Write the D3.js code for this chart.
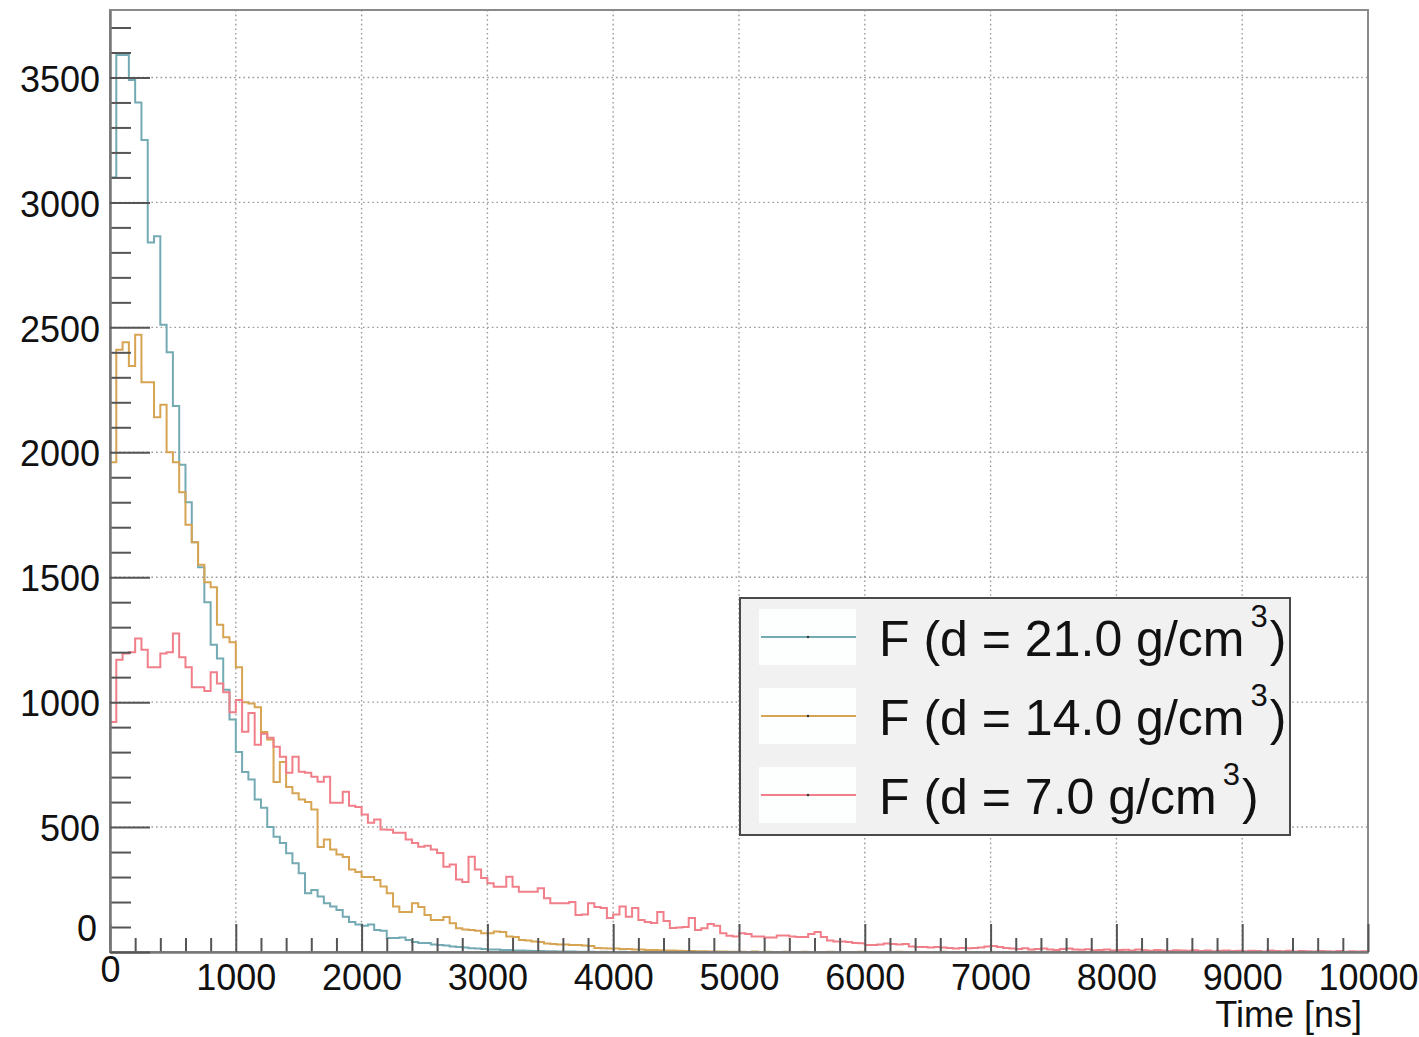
<!DOCTYPE html>
<html>
<head>
<meta charset="utf-8">
<script src="https://cdn.jsdelivr.net/npm/d3@7"></script>
<style>
  body { margin: 0; background: #fff; }
  svg { display: block; }
  text { font-family: "Liberation Sans", Arial, Helvetica, sans-serif; fill: #111; }
</style>
</head>
<body>
<svg id="chart" width="1419" height="1037"></svg>
<script>
// Time histograms, 50 ns bins from 0 to 10000 ns
const binWidth = 50;
const xTickValues = [0, 1000, 2000, 3000, 4000, 5000, 6000, 7000, 8000, 9000, 10000];
const xTickLabels = ["0", "1000", "2000", "3000", "4000", "5000", "6000", "7000", "8000", "9000", "10000"];
const yTickValues = [0, 500, 1000, 1500, 2000, 2500, 3000, 3500];
const yTickLabels = ["0", "500", "1000", "1500", "2000", "2500", "3000", "3500"];
const seriesNames = ["F (d = 21.0 g/cm", "F (d = 14.0 g/cm", "F (d = 7.0 g/cm"];

// counts per bin, d = 21.0 g/cm3
const counts21 = [
  3100, 3590, 3590, 3490, 3400, 3250, 2840, 2865, 2510, 2400,
  2185, 1950, 1800, 1640, 1540, 1400, 1230, 1175, 1050, 930,
  800, 720, 690, 610, 577, 500, 461, 436, 395, 355,
  315, 235, 248, 222, 195, 182, 168, 141, 120, 110,
  105, 110, 88, 85, 56, 56, 58, 48, 40, 36,
  36, 30, 28, 26, 22, 20, 18, 15, 14, 12,
  10, 10, 8, 8, 6, 6, 5, 4, 4, 3,
  3, 2, 2, 2, 1, 1, 1, 0, 1, 0,
  0, 1, 0, 0, 0, 1, 0, 0, 0, 0,
  0, 0, 0, 0, 0, 0, 0, 0, 0, 0,
  0, 0, 0, 0, 0, 0, 0, 0, 0, 0,
  0, 0, 0, 0, 0, 0, 0, 0, 0, 0,
  0, 0, 0, 0, 0, 0, 0, 0, 0, 0,
  0, 0, 0, 0, 0, 0, 0, 0, 0, 0,
  0, 0, 0, 0, 0, 0, 0, 0, 0, 0,
  0, 0, 0, 0, 0, 0, 0, 0, 0, 0,
  0, 0, 0, 0, 0, 0, 0, 0, 0, 0,
  0, 0, 0, 0, 0, 0, 0, 0, 0, 0,
  0, 0, 0, 0, 0, 0, 0, 0, 0, 0,
  0, 0, 0, 0, 0, 0, 0, 0, 0, 0
];

// counts per bin, d = 14.0 g/cm3
const counts14 = [
  1960, 2410, 2440, 2345, 2470, 2280, 2280, 2140, 2190, 2000,
  1960, 1840, 1710, 1640, 1550, 1480, 1460, 1310, 1260, 1240,
  1140, 1000, 995, 980, 880, 850, 680, 760, 660, 635,
  610, 600, 570, 420, 450, 410, 390, 380, 330, 320,
  300, 300, 288, 262, 235, 182, 160, 160, 195, 180,
  148, 128, 128, 140, 115, 95, 90, 88, 85, 75,
  75, 82, 80, 62, 60, 48, 46, 42, 40, 34,
  32, 30, 30, 28, 28, 26, 24, 16, 15, 14,
  14, 12, 12, 10, 10, 8, 8, 7, 6, 6,
  5, 4, 4, 3, 3, 2, 2, 2, 1, 1,
  1, 0, 2, 0, 1, 0, 0, 1, 0, 0,
  1, 0, 0, 0, 1, 0, 0, 0, 0, 1,
  0, 0, 0, 0, 0, 1, 0, 0, 0, 0,
  0, 0, 1, 0, 0, 0, 0, 0, 0, 0,
  0, 0, 0, 0, 0, 0, 1, 0, 0, 0,
  0, 0, 0, 0, 0, 0, 0, 0, 0, 0,
  0, 0, 0, 0, 0, 0, 0, 0, 0, 0,
  0, 0, 0, 0, 0, 0, 0, 0, 0, 0,
  0, 0, 0, 0, 0, 0, 0, 0, 0, 0,
  0, 0, 0, 0, 0, 0, 0, 0, 0, 0
];

// counts per bin, d = 7.0 g/cm3
const counts7 = [
  920, 1170, 1195, 1200, 1255, 1210, 1140, 1140, 1195, 1200,
  1275, 1180, 1140, 1060, 1060, 1045, 1120, 1075, 1040, 960,
  1009, 881, 957, 829, 873, 857, 821, 781, 717, 781,
  721, 717, 701, 681, 701, 597, 597, 641, 585, 580,
  550, 517, 530, 490, 489, 477, 477, 450, 436, 421,
  425, 410, 396, 341, 350, 290, 280, 381, 330, 296,
  275, 261, 261, 301, 261, 241, 241, 241, 255, 215,
  195, 195, 195, 200, 148, 150, 195, 180, 176, 136,
  150, 182, 141, 176, 128, 120, 116, 160, 124, 96,
  98, 100, 136, 88, 95, 112, 105, 75, 65, 62,
  75, 72, 62, 62, 58, 58, 66, 66, 62, 60,
  60, 72, 80, 60, 46, 42, 42, 40, 36, 35,
  28, 28, 30, 34, 32, 30, 32, 22, 20, 20,
  18, 20, 18, 16, 14, 16, 15, 16, 18, 22,
  24, 20, 16, 14, 12, 15, 10, 12, 14, 10,
  8, 12, 14, 10, 9, 11, 7, 8, 10, 6,
  8, 9, 6, 10, 7, 5, 8, 6, 4, 7,
  6, 5, 7, 4, 6, 3, 5, 6, 4, 5,
  3, 5, 4, 2, 6, 4, 3, 5, 2, 4,
  3, 2, 4, 3, 2, 4, 1, 3, 2, 3
];

const seriesColors = ["#74aab3", "#d6a452", "#f07f89"];
const allCounts = [counts21, counts14, counts7];

const svg = d3.select("#chart");
const plot = { left: 110, right: 1368, top: 10, bottom: 952 };

const x = d3.scaleLinear().domain([0, 10000]).range([plot.left, plot.right]);
const y = d3.scaleLinear().domain([0, 3770]).range([plot.bottom, plot.top]);

// frame background
svg.append("rect")
  .attr("x", plot.left).attr("y", plot.top)
  .attr("width", plot.right - plot.left).attr("height", plot.bottom - plot.top)
  .attr("fill", "#fff");

// dotted grid at major ticks
const grid = svg.append("g").attr("stroke", "#9a9a9a").attr("stroke-width", 1.4)
  .attr("stroke-dasharray", "1.6,3");
grid.selectAll("line.vx").data(xTickValues.slice(1, -1)).join("line")
  .attr("x1", d => x(d)).attr("x2", d => x(d))
  .attr("y1", plot.top).attr("y2", plot.bottom);
grid.selectAll("line.hy").data(yTickValues.slice(1)).join("line")
  .attr("x1", plot.left).attr("x2", plot.right)
  .attr("y1", d => y(d)).attr("y2", d => y(d));

// histogram step lines
const stepLine = d3.line()
  .x(d => x(d[0]))
  .y(d => y(d[1]))
  .curve(d3.curveStepAfter);

allCounts.forEach((counts, i) => {
  const pts = counts.map((c, k) => [k * binWidth, c]);
  pts.push([counts.length * binWidth, counts[counts.length - 1]]);
  svg.append("path")
    .datum(pts)
    .attr("fill", "none")
    .attr("stroke", seriesColors[i])
    .attr("stroke-width", 2)
    .attr("d", stepLine);
});

// frame border
svg.append("rect")
  .attr("x", plot.left).attr("y", plot.top)
  .attr("width", plot.right - plot.left).attr("height", plot.bottom - plot.top)
  .attr("fill", "none").attr("stroke", "#8a8a8a").attr("stroke-width", 2);

// x axis: major and minor ticks pointing inward
const xMinor = d3.range(200, 10000, 200).filter(v => v % 1000 !== 0);
svg.append("g")
  .attr("transform", `translate(0,${plot.bottom})`)
  .call(d3.axisBottom(x).tickValues(xMinor).tickSizeInner(-14).tickSizeOuter(0).tickFormat(""))
  .call(g => g.select(".domain").remove())
  .call(g => g.selectAll(".tick line").attr("stroke", "#555").attr("stroke-width", 2));

const xAxis = svg.append("g")
  .attr("transform", `translate(0,${plot.bottom})`)
  .call(d3.axisBottom(x).tickValues(xTickValues).tickSizeInner(-28).tickSizeOuter(0)
    .tickPadding(12).tickFormat((d, i) => xTickLabels[i]));
xAxis.select(".domain").attr("stroke", "#777").attr("stroke-width", 2.5);
xAxis.selectAll(".tick line").attr("stroke", "#555").attr("stroke-width", 2);
xAxis.selectAll(".tick text").attr("font-size", 36).attr("fill", "#111");
xAxis.selectAll(".tick").filter(d => d === 0).select("text").attr("dy", "0.5em");

// y axis: major and minor ticks pointing inward
const yMinor = d3.range(100, 3770, 100).filter(v => v % 500 !== 0);
svg.append("g")
  .attr("transform", `translate(${plot.left},0)`)
  .call(d3.axisLeft(y).tickValues(yMinor).tickSizeInner(-21).tickSizeOuter(0).tickFormat(""))
  .call(g => g.select(".domain").remove())
  .call(g => g.selectAll(".tick line").attr("stroke", "#555").attr("stroke-width", 2));

const yAxis = svg.append("g")
  .attr("transform", `translate(${plot.left},0)`)
  .call(d3.axisLeft(y).tickValues(yTickValues).tickSizeInner(-40).tickSizeOuter(0)
    .tickPadding(10).tickFormat((d, i) => yTickLabels[i]));
yAxis.select(".domain").attr("stroke", "#777").attr("stroke-width", 2.5);
yAxis.selectAll(".tick line").attr("stroke", "#555").attr("stroke-width", 2);
yAxis.selectAll(".tick text").attr("font-size", 36).attr("fill", "#111").attr("dy", "0.38em");
yAxis.selectAll(".tick").filter(d => d === 0).select("text")
  .attr("dy", "-0.32em").attr("x", -13);

// axis title
svg.append("text")
  .attr("x", 1362).attr("y", 1027)
  .attr("text-anchor", "end")
  .attr("font-size", 36)
  .text("Time [ns]");

// legend
const legend = svg.append("g");
legend.append("rect")
  .attr("x", 740).attr("y", 598).attr("width", 550).attr("height", 237)
  .attr("fill", "#f1f1f1").attr("stroke", "#4a4a4a").attr("stroke-width", 2);

const rowY = [637, 716, 795];
seriesNames.forEach((name, i) => {
  const cy = rowY[i];
  legend.append("rect")
    .attr("x", 759).attr("y", cy - 28).attr("width", 97).attr("height", 56)
    .attr("fill", "#fdfefe");
  legend.append("line")
    .attr("x1", 761).attr("x2", 856).attr("y1", cy).attr("y2", cy)
    .attr("stroke", seriesColors[i]).attr("stroke-width", 2);
  legend.append("circle")
    .attr("cx", 808).attr("cy", cy).attr("r", 1.2).attr("fill", "#333");
  const t = legend.append("text")
    .attr("x", 879).attr("y", cy + 19)
    .attr("font-size", 50);
  t.append("tspan").text(name);
  t.append("tspan").attr("dx", 6).attr("dy", -29).attr("font-size", 31).text("3");
  t.append("tspan").attr("dx", 2).attr("dy", 29).text(")");
});
</script>
</body>
</html>
